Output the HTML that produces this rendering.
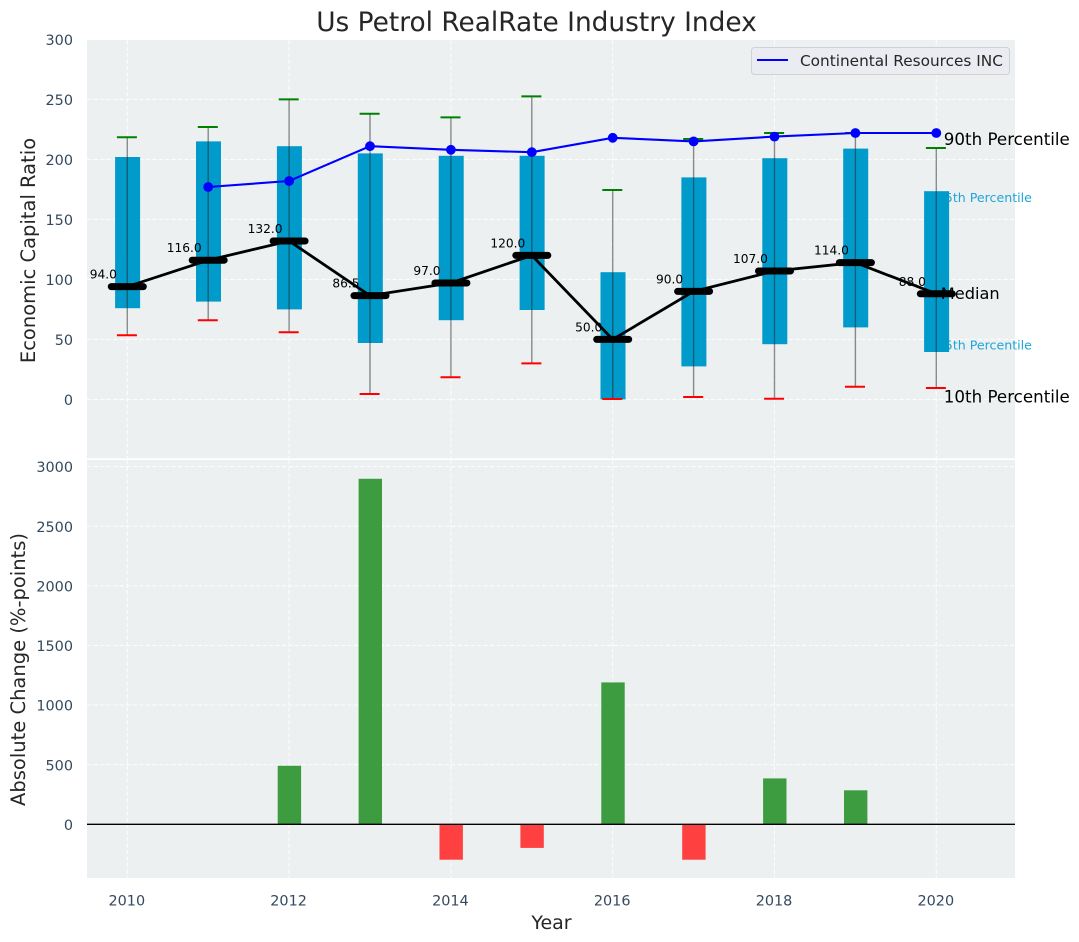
<!DOCTYPE html>
<html lang="en">
<head>
<meta charset="utf-8">
<title>Us Petrol RealRate Industry Index</title>
<style>
html,body{margin:0;padding:0;background:#fff;}
svg{display:block;font-family:"DejaVu Sans","Liberation Sans",sans-serif;}
</style>
</head>
<body>
<svg id="chart" xmlns="http://www.w3.org/2000/svg" width="1079" height="942" viewBox="0 0 1079 942">
  <rect x="87" y="40" width="928" height="418.3" fill="#ecf0f1"/>
  <rect x="87" y="460" width="928" height="418" fill="#ecf0f1"/>
  <g id="grid" opacity="0.8"></g>
  <g id="behind-labels">
    <text id="label-q3" font-size="12.6" fill="#1fa6d6">75th Percentile</text>
    <text id="label-q1" font-size="12.6" fill="#1fa6d6">25th Percentile</text>
  </g>
  <g id="boxes"></g>
  <g id="whiskers"></g>
  <g id="median-labels"></g>
  <g id="medians"></g>
  <g id="company"></g>
  <g id="bars"></g>
  <g id="ticks"></g>

  <text id="label-p90" font-size="16.7" fill="#000">90th Percentile</text>
  <text id="label-median" font-size="16.2" fill="#000">Median</text>
  <text id="label-p10" font-size="16.7" fill="#000">10th Percentile</text>

  <text x="536.5" y="31" text-anchor="middle" font-size="26.4" fill="#262626">Us Petrol RealRate Industry Index</text>
  <text transform="translate(35,250.5) rotate(-90)" text-anchor="middle" font-size="19.5" fill="#262626">Economic Capital Ratio</text>
  <text transform="translate(25,669.5) rotate(-90)" text-anchor="middle" font-size="19.5" fill="#262626">Absolute Change (%-points)</text>
  <text x="551.5" y="929" text-anchor="middle" font-size="19" fill="#262626">Year</text>

  <g>
    <rect x="751.5" y="47.5" width="258" height="27" rx="3" fill="#eaecf1" stroke="#cfd1d5" stroke-width="1"/>
    <line x1="757" x2="788" y1="60" y2="60" stroke="#0000ff" stroke-width="2"/>
    <text x="800" y="66" font-size="15.3" fill="#262626">Continental Resources INC</text>
  </g>
</svg>
<script>
const years = [2010, 2011, 2012, 2013, 2014, 2015, 2016, 2017, 2018, 2019, 2020];
const p90 = [218.5, 227, 250, 238, 235, 252.5, 174.5, 217, 222, 222, 209.5];
const q3 = [202, 215, 211, 205, 203, 203, 106, 185, 201, 209, 173.5];
const medians = [94, 116, 132, 86.5, 97, 120, 50, 90, 107, 114, 88];
const q1 = [76, 81.5, 75, 47, 66, 74.5, 0, 27.5, 46, 60, 39.5];
const p10 = [53.5, 66, 56, 4.5, 18.5, 30, 0.3, 2, 0.5, 10.5, 9.5];
const companyYears = [2011, 2012, 2013, 2014, 2015, 2016, 2017, 2018, 2019, 2020];
const companyValues = [177, 182, 211, 208, 206, 218, 215, 219, 222, 222];
const changeYears = [2012, 2013, 2014, 2015, 2016, 2017, 2018, 2019];
const changeValues = [491, 2898, -297, -198, 1190, -297, 385, 285];
const xTicks = [2010, 2012, 2014, 2016, 2018, 2020];
const upperTicks = [0, 50, 100, 150, 200, 250, 300];
const lowerTicks = [0, 500, 1000, 1500, 2000, 2500, 3000];

const SVGNS = 'http://www.w3.org/2000/svg';
const xs = function (year) { return 127.3 + (year - 2010) * 80.9; };
const yUpper = function (v) { return 399.4 - v * 1.2; };
const yLower = function (v) { return 824.3 - v * 0.11923; };

function make(parentId, tag, attrs, text) {
  const node = document.createElementNS(SVGNS, tag);
  Object.keys(attrs).forEach(function (k) { node.setAttribute(k, attrs[k]); });
  if (text !== undefined) node.textContent = text;
  document.getElementById(parentId).appendChild(node);
  return node;
}

xTicks.forEach(function (t) {
  const a = make('grid', 'line', {x1: xs(t), x2: xs(t), y1: 40, y2: 458.3, stroke: '#fff', 'stroke-width': 1.1, 'stroke-dasharray': '4.5 2'});
  
  
  const b = make('grid', 'line', {x1: xs(t), x2: xs(t), y1: 460, y2: 878, stroke: '#fff', 'stroke-width': 1.1, 'stroke-dasharray': '4.5 2'});
  
  
  const label = make('ticks', 'text', {x: xs(t) - 0.5, y: 905.5, 'text-anchor': 'middle', 'font-size': 14.4, fill: '#34495e'}, String(t));
  
  
});

upperTicks.forEach(function (t) {
  const g = make('grid', 'line', {x1: 87, x2: 1015, y1: yUpper(t), y2: yUpper(t), stroke: '#fff', 'stroke-width': 1.1, 'stroke-dasharray': '4.5 2'});
  
  
  const label = make('ticks', 'text', {x: 73, y: yUpper(t) + 5.6, 'text-anchor': 'end', 'font-size': 14.4, fill: '#34495e'}, String(t));
  
  
});

lowerTicks.forEach(function (t) {
  const g = make('grid', 'line', {x1: 87, x2: 1015, y1: yLower(t), y2: yLower(t), stroke: '#fff', 'stroke-width': 1.1, 'stroke-dasharray': '4.5 2'});
  
  
  const label = make('ticks', 'text', {x: 73, y: yLower(t) + 5.6, 'text-anchor': 'end', 'font-size': 14.4, fill: '#34495e'}, String(t));
  
  
});

years.forEach(function (year, i) {
  const x = xs(year);
  const box = make('boxes', 'rect', {x: x - 12.2, y: yUpper(q3[i]), width: 25, height: yUpper(q1[i]) - yUpper(q3[i]), fill: '#009acb'});
  
  

  const whisker = make('whiskers', 'line', {x1: x, x2: x, y1: yUpper(p10[i]), y2: yUpper(p90[i]), stroke: '#222', 'stroke-opacity': 0.5, 'stroke-width': 1.4});
  
  

  const capHigh = make('whiskers', 'line', {x1: x - 10.4, x2: x + 9.6, y1: yUpper(p90[i]), y2: yUpper(p90[i]), stroke: '#008000', 'stroke-width': 2});
  
  

  const capLow = make('whiskers', 'line', {x1: x - 10.4, x2: x + 9.6, y1: yUpper(p10[i]), y2: yUpper(p10[i]), stroke: '#ff0000', 'stroke-width': 2});
  
  

  const valueLabel = make('median-labels', 'text', {x: x - 24, y: yUpper(medians[i]) - 8, 'text-anchor': 'middle', 'font-size': 12.2, fill: '#000'}, medians[i].toFixed(1));
  
  
});

const medianPath = make('medians', 'polyline', {
  points: years.map(function (y, i) { return xs(y) + ',' + yUpper(medians[i]); }).join(' '),
  fill: 'none', stroke: '#000', 'stroke-width': 2.8
});



years.forEach(function (year, i) {
  const mark = make('medians', 'line', {x1: xs(year) - 16, x2: xs(year) + 16, y1: yUpper(medians[i]), y2: yUpper(medians[i]), stroke: '#000', 'stroke-width': 7, 'stroke-linecap': 'round'});
  
  
});

const companyPath = make('company', 'polyline', {
  points: companyYears.map(function (y, i) { return xs(y) + ',' + yUpper(companyValues[i]); }).join(' '),
  fill: 'none', stroke: '#0000ff', 'stroke-width': 2.1
});



companyYears.forEach(function (year, i) {
  const dot = make('company', 'circle', {cx: xs(year), cy: yUpper(companyValues[i]), r: 4.9, fill: '#0000ff'});
  
  
});

changeYears.forEach(function (year, i) {
  const v = changeValues[i];
  const top = Math.min(yLower(v), yLower(0));
  const bar = make('bars', 'rect', {x: xs(year) - 11.4, y: top, width: 23.4, height: Math.abs(yLower(v) - yLower(0)), fill: v >= 0 ? '#3c9c3f' : '#ff4040'});
  
  
});

const zeroLine = make('bars', 'line', {x1: 87, x2: 1015, y1: yLower(0), y2: yLower(0), stroke: '#000', 'stroke-width': 1.4});



const last = years.length - 1;
const lastX = xs(years[last]);
function place(id, x, y) {
  const t = document.getElementById(id);
  t.setAttribute('x', x);
  t.setAttribute('y', y);
}
place('label-p90', lastX + 7.5, yUpper(p90[last]) - 3.2);
place('label-p10', lastX + 7.5, yUpper(p10[last]) + 14.7);
place('label-median', lastX + 4.5, yUpper(medians[last]) + 5);
place('label-q3', lastX + 0.5, yUpper(q3[last]) + 11);
place('label-q1', lastX + 0.5, yUpper(q1[last]) - 2.5);
</script>
</body>
</html>
